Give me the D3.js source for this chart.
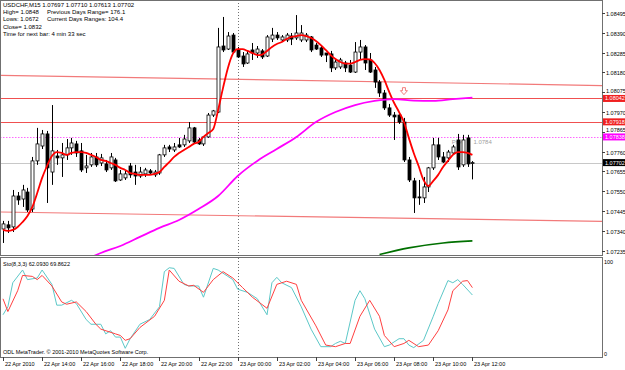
<!DOCTYPE html>
<html>
<head>
<meta charset="utf-8">
<script src="https://cdn.jsdelivr.net/npm/d3@7"></script>
<style>
  body { margin: 0; background: #fff; }
  text { font-family: "Liberation Sans", Arial, sans-serif; }
</style>
</head>
<body>
<div id="chart"></div>
<script>
// USDCHF M15 bars, 22 Apr 12:00 -> 23 Apr 12:00 (bar index 0..96)
const open = [1.07350,1.07372,1.07361,1.07525,1.07509,1.07546,1.07456,1.07711,1.07790,1.07854,
1.07652,1.07737,1.07727,1.07743,1.07780,1.07801,1.07764,1.07674,1.07690,1.07732,
1.07700,1.07695,1.07674,1.07716,1.07610,1.07621,1.07684,1.07652,1.07631,1.07642,
1.07658,1.07637,1.07647,1.07743,1.07785,1.07769,1.07796,1.07796,1.07817,1.07886,
1.07822,1.07801,1.07838,1.07954,1.07970,1.08320,1.08304,1.08378,1.08299,1.08267,
1.08230,1.08299,1.08283,1.08294,1.08267,1.08357,1.08378,1.08352,1.08352,1.08373,
1.08363,1.08352,1.08352,1.08368,1.08325,1.08310,1.08283,1.08278,1.08204,1.08209,
1.08230,1.08219,1.08182,1.08288,1.08315,1.08246,1.08193,1.08129,1.08071,1.07992,
1.07954,1.07954,1.07917,1.07716,1.07605,1.07520,1.07515,1.07573,1.07674,1.07796,
1.07732,1.07727,1.07753,1.07822,1.07690,1.07833,1.07697];
const high = [1.07393,1.07393,1.07557,1.07546,1.07584,1.07568,1.07732,1.07886,1.07875,1.07870,
1.08007,1.07769,1.07806,1.07827,1.07833,1.07817,1.07806,1.07743,1.07753,1.07753,
1.07748,1.07716,1.07753,1.07727,1.07663,1.07663,1.07700,1.07690,1.07679,1.07674,
1.07668,1.07663,1.07748,1.07796,1.07796,1.07806,1.07833,1.07849,1.07917,1.07891,
1.07833,1.07843,1.07965,1.07981,1.08416,1.08474,1.08394,1.08389,1.08315,1.08288,
1.08299,1.08336,1.08320,1.08304,1.08378,1.08416,1.08394,1.08378,1.08389,1.08389,
1.08484,1.08431,1.08389,1.08373,1.08336,1.08320,1.08283,1.08294,1.08246,1.08257,
1.08241,1.08246,1.08341,1.08352,1.08325,1.08283,1.08209,1.08140,1.08087,1.08013,
1.07970,1.07970,1.07939,1.07732,1.07621,1.07610,1.07626,1.07679,1.07833,1.07833,
1.07758,1.07769,1.07796,1.07854,1.07849,1.07849,1.07710];
const low = [1.07276,1.07329,1.07334,1.07478,1.07467,1.07440,1.07440,1.07690,1.07774,1.07488,
1.07584,1.07690,1.07626,1.07716,1.07743,1.07732,1.07652,1.07647,1.07679,1.07679,
1.07684,1.07652,1.07663,1.07599,1.07605,1.07610,1.07621,1.07584,1.07621,1.07626,
1.07642,1.07626,1.07637,1.07732,1.07758,1.07758,1.07780,1.07785,1.07806,1.07801,
1.07796,1.07790,1.07833,1.07944,1.07965,1.08288,1.08299,1.08283,1.08257,1.08209,
1.08225,1.08246,1.08257,1.08251,1.08262,1.08341,1.08352,1.08341,1.08341,1.08325,
1.08352,1.08341,1.08341,1.08288,1.08299,1.08262,1.08235,1.08182,1.08193,1.08198,
1.08182,1.08177,1.08177,1.08246,1.08193,1.08177,1.08098,1.08050,1.07981,1.07944,
1.07822,1.07907,1.07705,1.07599,1.07435,1.07478,1.07488,1.07546,1.07663,1.07716,
1.07700,1.07705,1.07743,1.07663,1.07679,1.07679,1.07613];
const close = [1.07377,1.07356,1.07525,1.07504,1.07557,1.07451,1.07711,1.07801,1.07854,1.07674,
1.07764,1.07727,1.07743,1.07780,1.07806,1.07753,1.07663,1.07684,1.07732,1.07690,
1.07727,1.07663,1.07732,1.07605,1.07642,1.07642,1.07637,1.07631,1.07652,1.07663,
1.07647,1.07652,1.07743,1.07780,1.07774,1.07785,1.07785,1.07827,1.07886,1.07811,
1.07801,1.07838,1.07954,1.07976,1.08315,1.08299,1.08373,1.08288,1.08262,1.08225,
1.08278,1.08283,1.08304,1.08262,1.08368,1.08378,1.08363,1.08368,1.08378,1.08357,
1.08389,1.08389,1.08378,1.08299,1.08304,1.08272,1.08272,1.08204,1.08235,1.08246,
1.08204,1.08182,1.08288,1.08315,1.08230,1.08182,1.08129,1.08071,1.07992,1.07954,
1.07944,1.07917,1.07716,1.07610,1.07515,1.07515,1.07573,1.07674,1.07796,1.07732,
1.07705,1.07758,1.07785,1.07679,1.07822,1.07695,1.07702];

// fast moving average (red), one value per bar
const fastMA = [1.07345,1.07340,1.07345,1.07361,1.07387,1.07419,1.07467,1.07541,1.07621,1.07684,
1.07737,1.07758,1.07753,1.07743,1.07753,1.07758,1.07758,1.07753,1.07743,1.07732,
1.07716,1.07711,1.07700,1.07690,1.07674,1.07663,1.07647,1.07642,1.07637,1.07637,
1.07637,1.07642,1.07652,1.07679,1.07705,1.07732,1.07753,1.07769,1.07785,1.07801,
1.07811,1.07838,1.07859,1.07880,1.07981,1.08098,1.08204,1.08278,1.08304,1.08304,
1.08294,1.08283,1.08272,1.08275,1.08294,1.08315,1.08331,1.08341,1.08357,1.08368,
1.08373,1.08378,1.08373,1.08363,1.08347,1.08325,1.08299,1.08272,1.08251,1.08235,
1.08227,1.08227,1.08235,1.08246,1.08251,1.08249,1.08230,1.08193,1.08140,1.08076,
1.08018,1.07970,1.07917,1.07833,1.07753,1.07684,1.07610,1.07578,1.07605,1.07637,
1.07679,1.07711,1.07743,1.07758,1.07758,1.07753,1.07743];

// slow moving average (magenta) and very slow one (green)
const slowBars = [16,20,24,28,32,36,40,44,48,52,56,60,64,68,72,76,80,84,88,92,96];
const slowMA = [1.07175,1.07223,1.07260,1.07308,1.07356,1.07398,1.07456,1.07525,1.07631,1.07711,
1.07774,1.07838,1.07917,1.07970,1.08007,1.08029,1.08039,1.08031,1.08029,1.08038,1.08046];
const longBars = [77,83,90,96];
const longMA = [1.07215,1.07250,1.07276,1.07287];

// Stochastic (8,3,3)
const stochKBars = [0,1,2,4,5,7,8,10,11,12,14,15,17,18,20,21,22,23,24,25,26,28,30,32,33,34,35,37,38,40,
41,43,44,46,47,48,50,52,54,55,56,57,59,61,63,65,67,68,69,70,72,73,74,76,78,79,81,82,83,84,86,88,89,91,92,93,94,96];
const stochK = [41.3,49.7,75.0,88.4,78.3,80.0,88.4,73.3,51.4,51.4,56.5,53.1,36.3,31.3,31.3,21.2,24.5,17.8,17.8,6.0,
16.1,31.3,36.3,49.7,86.7,90.8,90.1,73.3,71.6,71.6,59.8,90.1,88.4,81.7,78.3,68.2,64.9,58.2,41.3,75.0,
80.7,75.0,69.9,49.7,26.2,7.7,7.7,11.1,13.4,11.1,56.5,66.6,58.2,26.2,7.7,9.4,16.1,16.1,9.4,6.7,
14.4,39.7,53.1,77.3,75.0,78.3,73.3,62.09];
const stochDBars = [0,1,3,4,6,7,8,10,12,13,15,17,19,20,23,24,25,26,28,31,33,34,36,38,39,41,43,45,47,49,
51,54,56,58,60,61,64,66,68,70,71,73,75,77,78,80,82,83,85,87,89,91,92,94,95,96];
const stochD = [58.1,44.7,66.6,82.7,81.7,78.3,82.7,71.6,54.8,52.4,54.8,44.7,31.3,26.2,21.2,19.5,14.4,16.1,27.9,39.7,
56.5,88.4,76.6,71.6,72.3,64.9,78.3,86.7,80.0,69.9,59.8,48.1,73.3,76.6,73.3,56.5,29.6,9.4,7.7,11.1,
11.1,39.7,56.5,39.7,19.5,7.7,11.1,14.4,7.7,9.4,24.5,46.4,66.6,76.6,77.3,69.86];

// axes
const priceTicks = [1.08495,1.08390,1.08285,1.08180,1.08075,1.07970,1.07865,1.07760,1.07655,1.07550,1.07445,1.07340,1.07235];
const timeTickBars = [0,8,16,24,32,40,48,56,64,72,80,88,96];
const timeTickLabels = ["22 Apr 2010","22 Apr 14:00","22 Apr 16:00","22 Apr 18:00","22 Apr 20:00","22 Apr 22:00",
  "23 Apr 00:00","23 Apr 02:00","23 Apr 04:00","23 Apr 06:00","23 Apr 08:00","23 Apr 10:00","23 Apr 12:00"];

// levels and trend lines
const resistLevels = [1.08042, 1.07918];
const prevClose = 1.07838;
const bid = 1.07702;
const trendTopBars = [0, 96], trendTop = [1.08164, 1.08122];
const trendBotBars = [0, 96], trendBot = [1.07440, 1.07401];
const arrowBar = 82, arrowPrice = 1.08078;

const headerLines = [
  ["USDCHF,M15  1.07697 1.07710 1.07613 1.07702", ""],
  ["High= 1.0848", "Previous Days Range= 176.1"],
  ["Lows: 1.0672", "Current Days Ranges: 104.4"],
  ["Close= 1.0832", ""],
  ["Time for next bar: 4 min 33 sec", ""]
];

const width = 625, height = 370;
const plotRight = 602;
const main = {top: 0, bottom: 255};
const sub = {top: 258, bottom: 357};

const svg = d3.select("#chart").append("svg")
    .attr("width", width)
    .attr("height", height);

const xScale = d3.scaleLinear().domain([0, 96]).range([3, 472.4]);
const yScale = d3.scaleLinear().domain([1.07235, 1.08495]).range([250.7, 13]);
const sScale = d3.scaleLinear().domain([0, 100]).range([354, 259]);

svg.append("clipPath").attr("id", "clipMain")
  .append("rect").attr("x", 1).attr("y", 1).attr("width", plotRight - 1).attr("height", main.bottom - 1);
svg.append("clipPath").attr("id", "clipSub")
  .append("rect").attr("x", 1).attr("y", sub.top).attr("width", plotRight - 1).attr("height", sub.bottom - sub.top);

const gMain = svg.append("g").attr("clip-path", "url(#clipMain)");
const gSub = svg.append("g").attr("clip-path", "url(#clipSub)");

// day separator
[gMain, gSub].forEach(function(g) {
  g.append("line")
    .attr("x1", Math.round(xScale(48)) + 0.5).attr("x2", Math.round(xScale(48)) + 0.5)
    .attr("y1", 0).attr("y2", height)
    .attr("stroke", "#707070").attr("stroke-dasharray", "1,2");
});

// trend lines (rays across the window)
function ray(bars, vals, color) {
  const slope = (vals[1] - vals[0]) / (bars[1] - bars[0]);
  const b0 = xScale.invert(0), b1 = xScale.invert(plotRight);
  gMain.append("line")
    .attr("x1", 0).attr("y1", yScale(vals[0] + slope * (b0 - bars[0])))
    .attr("x2", plotRight).attr("y2", yScale(vals[0] + slope * (b1 - bars[0])))
    .attr("stroke", color).attr("stroke-width", 1.2);
}
ray(trendTopBars, trendTop, "#f27a7a");
ray(trendBotBars, trendBot, "#f27a7a");

resistLevels.forEach(function(p) {
  gMain.append("line")
    .attr("x1", 0).attr("x2", plotRight)
    .attr("y1", Math.round(yScale(p)) + 0.5).attr("y2", Math.round(yScale(p)) + 0.5)
    .attr("stroke", "#f05050").attr("stroke-width", 1.2);
});
gMain.append("line")
  .attr("x1", 0).attr("x2", plotRight)
  .attr("y1", Math.round(yScale(prevClose)) + 0.5).attr("y2", Math.round(yScale(prevClose)) + 0.5)
  .attr("stroke", "#ff66ff").attr("stroke-dasharray", "1.5,1.5").attr("stroke-width", 1);
gMain.append("line")
  .attr("x1", 0).attr("x2", plotRight)
  .attr("y1", Math.round(yScale(bid)) + 0.5).attr("y2", Math.round(yScale(bid)) + 0.5)
  .attr("stroke", "#c8c8c8");

// previous close label (under the candles)
gMain.append("text")
  .attr("x", xScale(92) - 1).attr("y", yScale(prevClose) + 7)
  .attr("font-size", 6).attr("fill", "#a0a0a0")
  .text("Prev");
gMain.append("text")
  .attr("x", xScale(96) + 1).attr("y", yScale(prevClose) + 7)
  .attr("font-size", 6).attr("fill", "#a0a0a0")
  .text("1.0784");

// candles
const bars = d3.range(open.length);
const candle = gMain.selectAll(".candle").data(bars).enter().append("g");
candle.append("line")
  .attr("x1", function(i) { return Math.round(xScale(i)) + 0.5; })
  .attr("x2", function(i) { return Math.round(xScale(i)) + 0.5; })
  .attr("y1", function(i) { return yScale(high[i]); })
  .attr("y2", function(i) { return yScale(low[i]); })
  .attr("stroke", "#000");
candle.append("rect")
  .attr("x", function(i) { return Math.round(xScale(i)) - 1; })
  .attr("y", function(i) { return yScale(Math.max(open[i], close[i])); })
  .attr("width", 3)
  .attr("height", function(i) { return Math.max(0.8, Math.abs(yScale(open[i]) - yScale(close[i]))); })
  .attr("fill", function(i) { return close[i] >= open[i] ? "#fff" : "#000"; })
  .attr("stroke", "#000").attr("stroke-width", 0.8);

// moving averages
const line = d3.line().curve(d3.curveMonotoneX);
gMain.append("path")
  .attr("d", line(bars.map(function(i) { return [xScale(i), yScale(fastMA[i])]; })))
  .attr("fill", "none").attr("stroke", "#ff0000").attr("stroke-width", 1.8);
gMain.append("path")
  .attr("d", line(slowBars.map(function(b, k) { return [xScale(b), yScale(slowMA[k])]; })))
  .attr("fill", "none").attr("stroke", "#ff00ff").attr("stroke-width", 1.8);
gMain.append("path")
  .attr("d", line(longBars.map(function(b, k) { return [xScale(b), yScale(longMA[k])]; })))
  .attr("fill", "none").attr("stroke", "#007000").attr("stroke-width", 1.6);

// down arrow
const ax = xScale(arrowBar), ay = yScale(arrowPrice);
gMain.append("path")
  .attr("d", `M${ax-1.5},${ay-4} h3 v3 h2 l-3.5,4 l-3.5,-4 h2 z`)
  .attr("fill", "#fff").attr("stroke", "#f06060").attr("stroke-width", 0.8);

// stochastic
const sLine = d3.line();
gSub.append("path")
  .attr("d", sLine(stochKBars.map(function(b, k) { return [xScale(b), sScale(stochK[k])]; })))
  .attr("fill", "none").attr("stroke", "#5cc8c8").attr("stroke-width", 1);
gSub.append("path")
  .attr("d", sLine(stochDBars.map(function(b, k) { return [xScale(b), sScale(stochD[k])]; })))
  .attr("fill", "none").attr("stroke", "#ff4040").attr("stroke-width", 1);

// frames
svg.append("rect").attr("x", 0.5).attr("y", 0.5).attr("width", plotRight).attr("height", main.bottom)
  .attr("fill", "none").attr("stroke", "#707070");
svg.append("rect").attr("x", 0.5).attr("y", sub.top - 0.5).attr("width", plotRight).attr("height", sub.bottom - sub.top + 1)
  .attr("fill", "none").attr("stroke", "#707070");

// price axis; labels next to a coloured tag are nudged away from it
const tags = [[resistLevels[0], "#f02020"], [resistLevels[1], "#f02020"], [prevClose, "#ff00ff"], [bid, "#000"]];
const pAxis = svg.append("g").attr("class", "axis");
priceTicks.forEach(function(p) {
  const y = Math.round(yScale(p)) + 0.5;
  let nudge = 0;
  tags.forEach(function(t) {
    const d = y - yScale(t[0]);
    if (Math.abs(d) < 9) nudge = d < 0 ? -(9 - Math.abs(d)) * 0.6 : (9 - Math.abs(d)) * 0.6;
  });
  pAxis.append("line").attr("x1", plotRight).attr("x2", plotRight + 3).attr("y1", y).attr("y2", y).attr("stroke", "#404040");
  pAxis.append("text").attr("x", 606).attr("y", y + 2 + nudge).attr("font-size", 5.5).attr("fill", "#000").text(d3.format(".5f")(p));
});
tags.forEach(function(t) {
  const y = yScale(t[0]);
  svg.append("rect").attr("x", plotRight + 1).attr("y", y - 3.5).attr("width", 22).attr("height", 7).attr("fill", t[1]);
  svg.append("text").attr("x", 605).attr("y", y + 2).attr("font-size", 5.5).attr("fill", "#fff").text(d3.format(".5f")(t[0]));
});

// stochastic scale
svg.append("text").attr("x", 604).attr("y", 264).attr("font-size", 5.5).text("100");
svg.append("text").attr("x", 604).attr("y", 356).attr("font-size", 5.5).text("0");

// time axis
timeTickBars.forEach(function(b, k) {
  const x = Math.round(xScale(b)) + 0.5;
  svg.append("line").attr("x1", x).attr("x2", x).attr("y1", sub.bottom).attr("y2", sub.bottom + 4).attr("stroke", "#404040");
  svg.append("text").attr("x", x + 1.5).attr("y", 366).attr("font-size", 5.5).text(timeTickLabels[k]);
});

// header texts
headerLines.forEach(function(l, k) {
  svg.append("text").attr("x", 3).attr("y", 7 + k * 7.2).attr("font-size", 6).text(l[0]);
  if (l[1]) svg.append("text").attr("x", 47).attr("y", 7 + k * 7.2).attr("font-size", 6).text(l[1]);
});
svg.append("text").attr("x", 3).attr("y", 266).attr("font-size", 5.5)
  .text("Sto(8,3,3) 62.0930 69.8622");
svg.append("text").attr("x", 3).attr("y", 354).attr("font-size", 5.5)
  .text("ODL MetaTrader. © 2001-2010 MetaQuotes Software Corp.");
</script>
</body>
</html>
